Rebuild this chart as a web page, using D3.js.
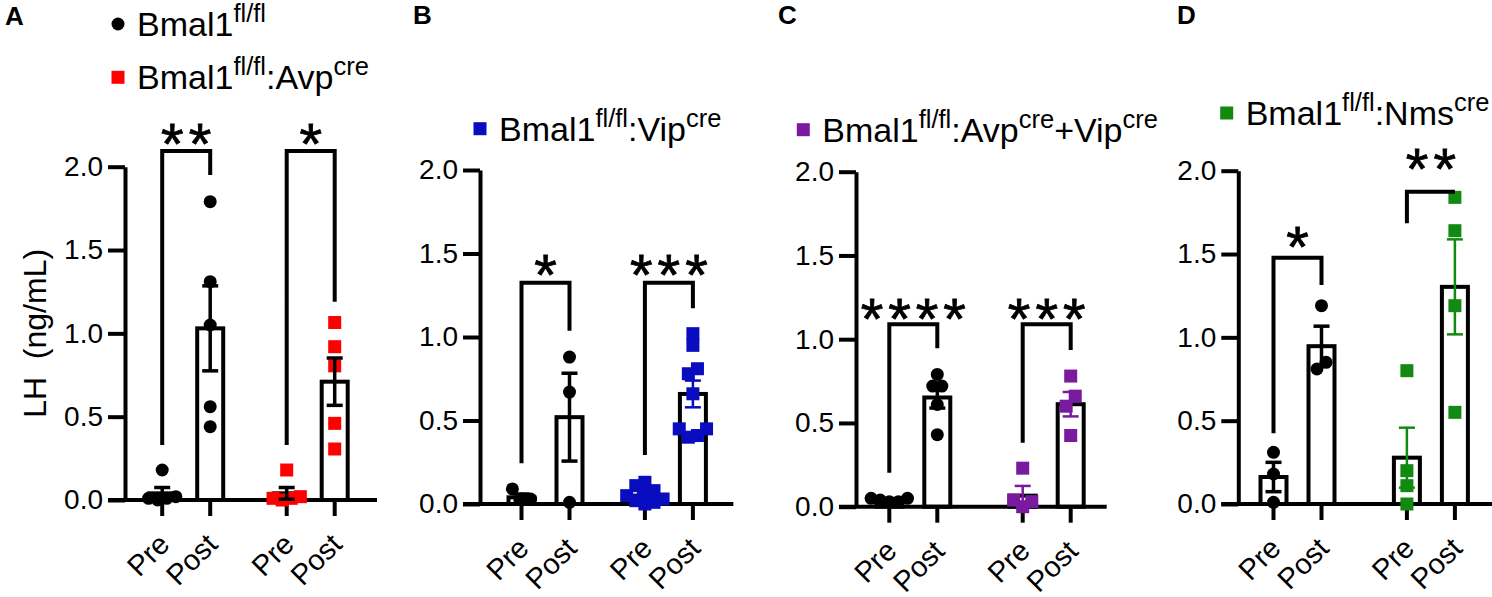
<!DOCTYPE html>
<html lang="en">
<head>
  <meta charset="UTF-8">
  <title>LH before and after, Bmal1 lines</title>
  <script src="https://d3js.org/d3.v7.min.js"></script>
  <style>
    body { margin: 0; background: #fff; }
    svg { display: block; font-family: "Liberation Sans", Arial, sans-serif; }
  </style>
</head>
<body>
  <svg width="1492" height="597"></svg>

  <script>
    // values, LH in ng/mL
    const conditions = ["Pre", "Post"];
    const yTicks = [0, 0.5, 1.0, 1.5, 2.0];
    const yTitle = "LH\u00a0\u00a0(ng/mL)";

    // A  Bmal1fl/fl  vs  Bmal1fl/fl:Avpcre
    const aPoints = [
      [0.18, 0.02, 0.01, 0.01, 0.0],
      [1.79, 1.31, 1.05, 0.56, 0.44],
      [0.18, 0.02, 0.01, 0.01, 0.0],
      [1.065, 0.92, 0.805, 0.46, 0.306]
    ];
    const aMeans = [0.04, 1.03, 0.04, 0.71];
    const aSems = [0.035, 0.255, 0.035, 0.142];
    const aStars = ["**", "*"];
    const aBracket = [2.094, 2.094];   // height of the bar of each bracket
    const aLegL = [0.33, 0.33];        // where the left leg stops
    const aLegR = [1.95, 1.19];        // where the right leg stops
    const aStarY = [2.22, 2.22];

    // B  Bmal1fl/fl  vs  Bmal1fl/fl:Vipcre
    const bPoints = [
      [0.09, 0.03, 0.03],
      [0.88, 0.67, 0.01],
      [0.13, 0.11, 0.08, 0.06, 0.05, 0.03, 0.02, 0.01, 0.0],
      [1.02, 0.95, 0.81, 0.78, 0.66, 0.45, 0.45, 0.41, 0.40]
    ];
    const bMeans = [0.04, 0.52, 0.05, 0.659];
    const bSems = [0.02, 0.263, 0.015, 0.08];
    const bStars = ["*", "***"];
    const bBracket = [1.325, 1.325];
    const bLegL = [0.244, 0.293];
    const bLegR = [1.038, 1.172];
    const bStarY = [1.451, 1.451];

    // C  Bmal1fl/fl  vs  Bmal1fl/fl:Avpcre+Vipcre
    const cPoints = [
      [0.05, 0.05, 0.04, 0.03, 0.03],
      [0.79, 0.72, 0.72, 0.61, 0.43],
      [0.23, 0.04, 0.03, 0.0],
      [0.78, 0.66, 0.60, 0.425]
    ];
    const cMeans = [0.035, 0.652, 0.066, 0.612];
    const cSems = [0.004, 0.063, 0.058, 0.073];
    const cStars = ["****", "***"];
    const cBracket = [1.089, 1.089];
    const cLegL = [0.203, 0.382];
    const cLegR = [0.946, 0.936];
    const cStarY = [1.204, 1.204];

    // D  Bmal1fl/fl  vs  Bmal1fl/fl:Nmscre
    const dPoints = [
      [0.31, 0.18, 0.01],
      [1.19, 0.85, 0.81],
      [0.80, 0.20, 0.11, 0.0],
      [1.84, 1.64, 1.19, 0.55]
    ];
    const dMeans = [0.162, 0.947, 0.278, 1.303];
    const dSems = [0.088, 0.12, 0.18, 0.285];
    const dStars = ["*", "**"];
    const dBracket = [1.478, 1.874];
    const dLegL = [0.424, 1.684];
    const dLegR = [1.314, 1.874];
    const dStarY = [1.624, 2.09];

    // legend texts: [text, superscript?]
    const legCtrl = [["Bmal1"], ["fl/fl", true]];
    const legAvp = [["Bmal1"], ["fl/fl", true], [":Avp"], ["cre", true]];
    const legVip = [["Bmal1"], ["fl/fl", true], [":Vip"], ["cre", true]];
    const legBoth = [["Bmal1"], ["fl/fl", true], [":Avp"], ["cre", true], ["+Vip"], ["cre", true]];
    const legNms = [["Bmal1"], ["fl/fl", true], [":Nms"], ["cre", true]];

    const BLACK = "#000", RED = "#ff0000", BLUE = "#0a0cbf", PURPLE = "#7a1a9e", GREEN = "#128a12";

    // layout of the four panels
    const panels = [
      { letter: "A", lx: 5, ly: 25, axisX: 125, y0: 500, y2: 166.7, span: [61.2, 185.7], xEnd: 252,
        points: aPoints, means: aMeans, sems: aSems,
        stars: aStars, bracket: aBracket, legL: aLegL, legR: aLegR, starY: aStarY,
        shapes: ["circle", "square"], colors: [BLACK, RED], errColors: [BLACK, BLACK],
        legend: [{ x: 118, base: 36, shape: "circle", color: BLACK, parts: legCtrl },
                 { x: 118, base: 89.3, shape: "square", color: RED, parts: legAvp }],
        title: true },
      { letter: "B", lx: 413, ly: 24, axisX: 480, y0: 504, y2: 170, span: [65.5, 188.9], xEnd: 253.3,
        points: bPoints, means: bMeans, sems: bSems,
        stars: bStars, bracket: bBracket, legL: bLegL, legR: bLegR, starY: bStarY,
        shapes: ["circle", "square"], colors: [BLACK, BLUE], errColors: [BLACK, BLUE],
        legend: [{ x: 480, base: 140.7, shape: "square", color: BLUE, parts: legVip }] },
      { letter: "C", lx: 778, ly: 24, axisX: 856, y0: 506.7, y2: 171.7, span: [57.3, 190.7], xEnd: 250.7,
        points: cPoints, means: cMeans, sems: cSems,
        stars: cStars, bracket: cBracket, legL: cLegL, legR: cLegR, starY: cStarY,
        shapes: ["circle", "square"], colors: [BLACK, PURPLE], errColors: [BLACK, PURPLE],
        legend: [{ x: 803.3, base: 141.7, shape: "square", color: PURPLE, parts: legBoth }] },
      { letter: "D", lx: 1177, ly: 24, axisX: 1238.3, y0: 504, y2: 170.7, span: [59.2, 192.6], xEnd: 254,
        points: dPoints, means: dMeans, sems: dSems,
        stars: dStars, bracket: dBracket, legL: dLegL, legR: dLegR, starY: dStarY,
        shapes: ["circle", "square"], colors: [BLACK, GREEN], errColors: [BLACK, GREEN],
        legend: [{ x: 1226.7, base: 125, shape: "square", color: GREEN, parts: legNms }] }
    ];

    const svg = d3.select("svg");
    const MARK = 13;

    // spread overlapping points sideways, Prism style
    function swarm(vals, y) {
      const step = MARK * 0.7, hitX = MARK * 0.65, hitY = MARK * 0.8;
      const order = d3.range(vals.length).sort((a, b) => vals[a] - vals[b]);
      const placed = [], dx = vals.map(() => 0);
      order.forEach(i => {
        const py = y(vals[i]);
        let best = 0, bestHits = Infinity;
        for (const k of [0, 1, -1, 2, -2]) {
          const ox = k * step;
          const hits = placed.filter(q => Math.abs(q.ox - ox) < hitX && Math.abs(q.py - py) < hitY).length;
          if (hits < bestHits) { bestHits = hits; best = ox; }
          if (!hits) break;
        }
        placed.push({ ox: best, py });
        dx[i] = best;
      });
      let run = [];
      const flush = () => {
        if (!run.length) return;
        const ext = d3.extent(run, j => dx[j]);
        const shift = (ext[0] + ext[1]) / 2;
        run.forEach(j => { dx[j] -= shift; });
        run = [];
      };
      order.forEach((i, n) => {
        if (n && y(vals[order[n - 1]]) - y(vals[i]) >= hitY) flush();
        run.push(i);
      });
      flush();
      return dx;
    }

    function drawMark(sel, shape, color, x, y) {
      if (shape === "circle") {
        sel.append("circle").attr("cx", x).attr("cy", y).attr("r", MARK / 2).attr("fill", color);
      } else {
        sel.append("rect").attr("x", x - MARK / 2).attr("y", y - MARK / 2)
          .attr("width", MARK).attr("height", MARK).attr("fill", color);
      }
    }

    panels.forEach(p => {
      const g = svg.append("g");
      const y = d3.scaleLinear().domain([0, 2]).range([p.y0, p.y2]);
      const gx = d3.scalePoint().domain([0, 1]).range([p.axisX + p.span[0], p.axisX + p.span[1]]);
      const cx = d3.scalePoint().domain(conditions).range([-24, 24]);
      const xPos = i => gx(Math.floor(i / 2)) + cx(conditions[i % 2]);

      // panel letter
      g.append("text").attr("x", p.lx).attr("y", p.ly)
        .attr("font-size", 26).attr("font-weight", "bold").text(p.letter);

      // y axis
      const ya = g.append("g").attr("transform", `translate(${p.axisX},0)`)
        .call(d3.axisLeft(y).tickValues(yTicks).tickFormat(d3.format(".1f"))
          .tickSize(17).tickSizeOuter(0).tickPadding(5));
      ya.select(".domain").attr("stroke", BLACK).attr("stroke-width", 4);
      ya.selectAll(".tick line").attr("stroke", BLACK).attr("stroke-width", 4);
      ya.selectAll(".tick text").attr("font-size", 28).attr("fill", BLACK)
        .attr("font-family", "Liberation Sans, Arial, sans-serif");

      if (p.title) {
        g.append("text")
          .attr("transform", `translate(46,${(p.y0 + p.y2) / 2}) rotate(-90)`)
          .attr("text-anchor", "middle").attr("font-size", 32).text(yTitle);
      }

      // bars
      d3.range(4).forEach(i => {
        g.append("rect")
          .attr("x", xPos(i) - 13).attr("width", 26)
          .attr("y", y(p.means[i])).attr("height", y(0) - y(p.means[i]))
          .attr("fill", "#fff").attr("stroke", BLACK).attr("stroke-width", 4);
      });

      // x axis line and category ticks
      g.append("line")
        .attr("x1", p.axisX - 17).attr("x2", p.axisX + p.xEnd)
        .attr("y1", y(0)).attr("y2", y(0))
        .attr("stroke", BLACK).attr("stroke-width", 4);
      d3.range(4).forEach(i => {
        g.append("line")
          .attr("x1", xPos(i)).attr("x2", xPos(i))
          .attr("y1", y(0)).attr("y2", y(0) + 16)
          .attr("stroke", BLACK).attr("stroke-width", 4);
        g.append("text")
          .attr("transform", `translate(${xPos(i) + 9},${y(0) + 46}) rotate(-45)`)
          .attr("text-anchor", "end").attr("font-size", 29)
          .text(conditions[i % 2]);
      });

      // individual animals
      p.points.forEach((vals, i) => {
        const gi = Math.floor(i / 2);
        const dx = swarm(vals, y);
        vals.forEach((v, k) => drawMark(g, p.shapes[gi], p.colors[gi], xPos(i) + dx[k], y(v)));
      });

      // mean +/- SEM
      d3.range(4).forEach(i => {
        const col = p.errColors[Math.floor(i / 2)];
        const lo = y(p.means[i] - p.sems[i]), hi = y(p.means[i] + p.sems[i]);
        const sw = col === BLACK ? 3.5 : 2.5;
        g.append("line").attr("x1", xPos(i)).attr("x2", xPos(i)).attr("y1", lo).attr("y2", hi)
          .attr("stroke", col).attr("stroke-width", sw);
        [lo, hi].forEach(yy => {
          g.append("line").attr("x1", xPos(i) - 8).attr("x2", xPos(i) + 8).attr("y1", yy).attr("y2", yy)
            .attr("stroke", col).attr("stroke-width", sw);
        });
      });

      // significance brackets
      [0, 1].forEach(b => {
        const xl = xPos(b * 2), xr = xPos(b * 2 + 1);
        g.append("path")
          .attr("d", `M${xl},${y(p.legL[b])}V${y(p.bracket[b])}H${xr}V${y(p.legR[b])}`)
          .attr("fill", "none").attr("stroke", BLACK).attr("stroke-width", 4);
        g.append("text")
          .attr("x", (xl + xr) / 2 + 2.5).attr("y", y(p.starY[b])).attr("dy", "0.58em")
          .attr("text-anchor", "middle").attr("font-size", 58).attr("letter-spacing", 5)
          .attr("stroke", BLACK).attr("stroke-width", 0.8)
          .text(p.stars[b]);
      });

      // legend
      p.legend.forEach(l => {
        drawMark(g, l.shape, l.color, l.x, l.base - 12);
        const t = g.append("text").attr("x", l.x + 19).attr("y", l.base).attr("font-size", 34);
        let up = false;
        l.parts.forEach(([txt, sup]) => {
          const s = t.append("tspan").text(txt);
          if (sup && !up) { s.attr("dy", -14).attr("font-size", 25.5); up = true; }
          else if (sup) { s.attr("font-size", 25.5); }
          else if (up) { s.attr("dy", 14); up = false; }
        });
      });
    });
  </script>
</body>
</html>
